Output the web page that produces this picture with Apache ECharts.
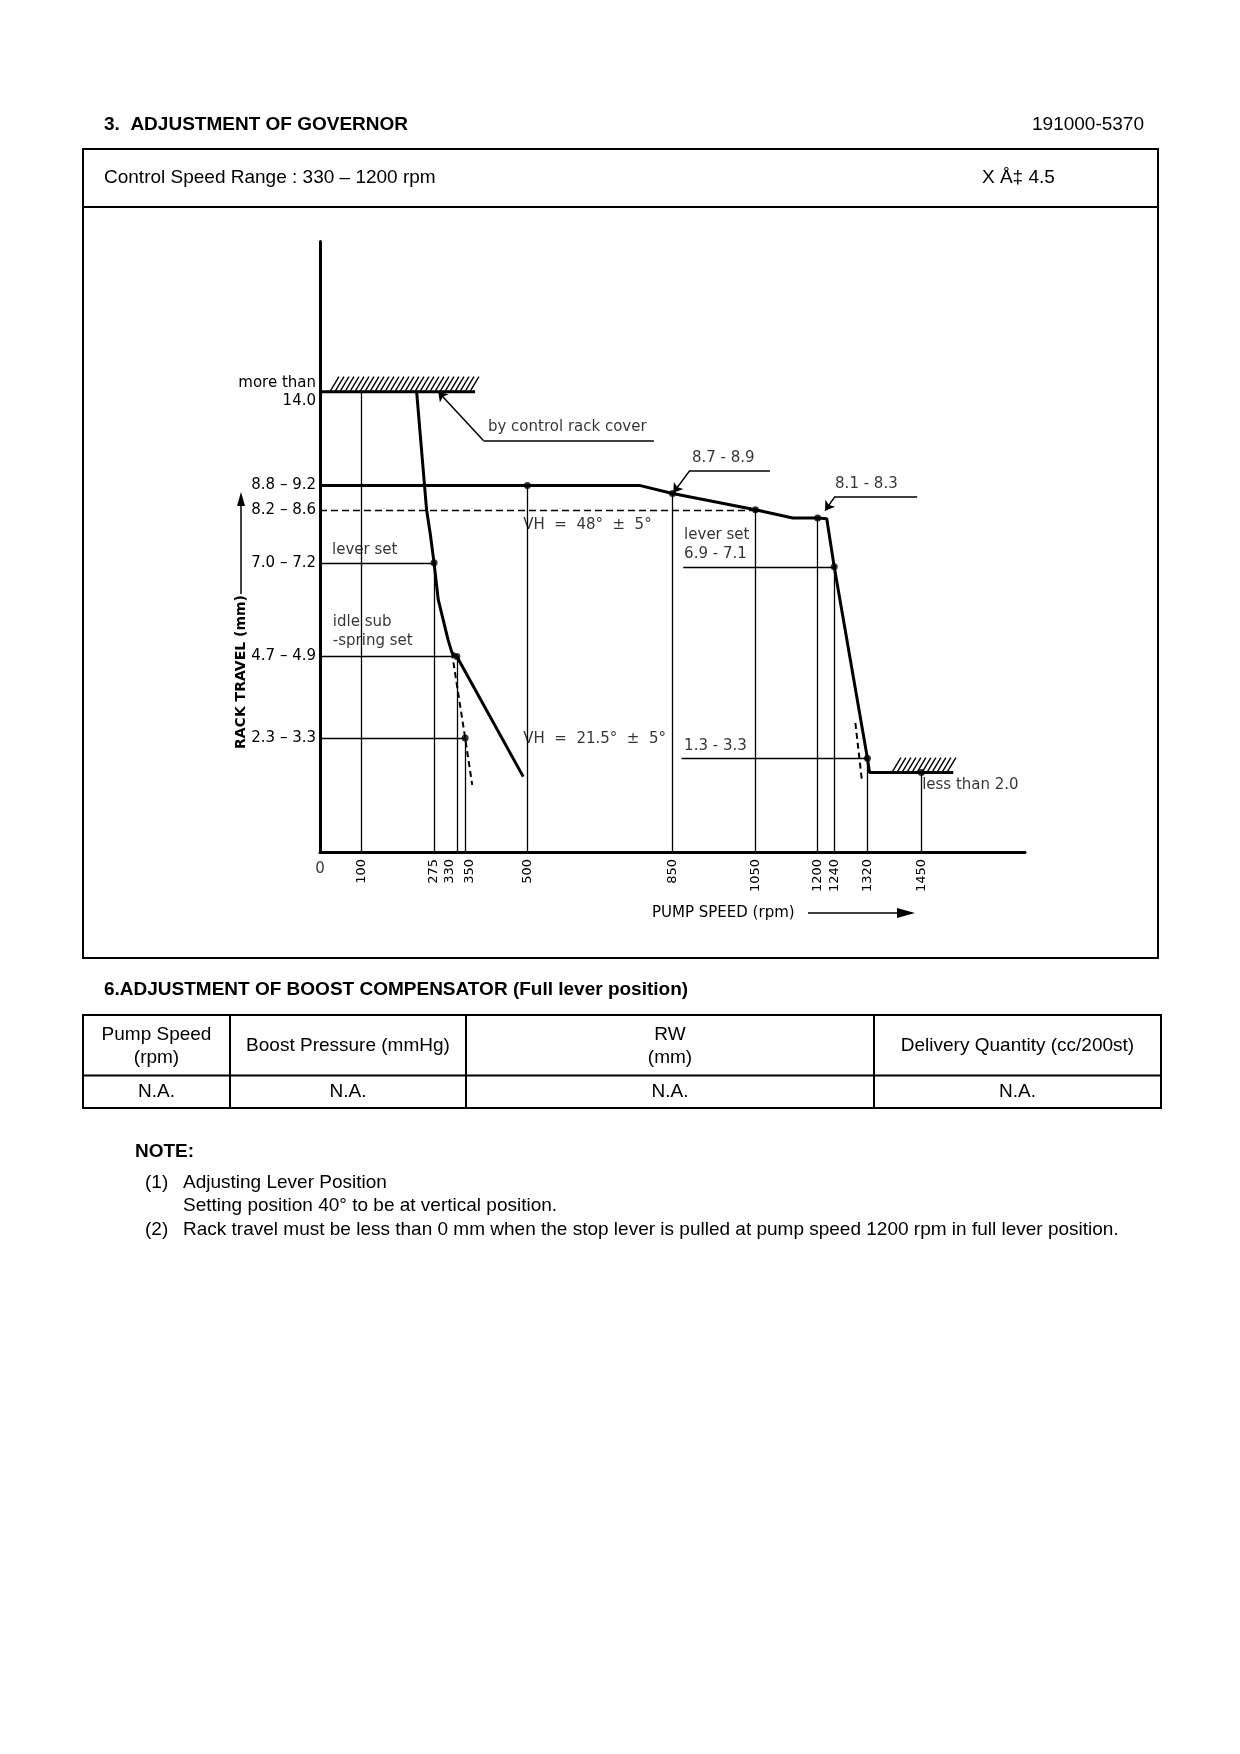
<!DOCTYPE html>
<html>
<head>
<meta charset="utf-8">
<title>Adjustment of Governor 191000-5370</title>
<script src="https://cdn.jsdelivr.net/npm/echarts@6.0.0/dist/echarts.min.js"></script>
<style>
  html, body { margin: 0; padding: 0; background: #fff; }
  #main { width: 1240px; height: 1754px; }
</style>
</head>
<body>
<div id="main"></div>
<script>
// rack travel (mm) vs pump speed (rpm)
var fullLeverCurve = [[233, 14.0], [257, 8.4], [266, 7.8], [275, 7.1], [285, 6.2], [309, 5.2], [318, 4.9], [330, 4.8]];
var idleSlope = [[330, 4.8], [490, 1.85]];
var idleDashed = [[318, 4.9], [350, 2.8], [367, 1.65]];
var fullLoadCurve = [[0, 9.0], [770, 9.0], [850, 8.8], [1050, 8.4], [1140, 8.2], [1200, 8.2], [1222, 8.18],
                     [1240, 7.0], [1320, 2.3], [1325, 1.95], [1450, 1.95], [1527, 1.95]];
var cutoffDashed = [[1291, 3.17], [1307, 1.73]];
var coverStop = [[0, 14.0], [374, 14.0]];
var hatchSpans = [[24, 386, 14.0], [1379, 1544, 1.95]];   // [from rpm, to rpm, mm]
var setPoints = [[275, 7.1], [330, 4.8], [350, 2.8], [500, 9.0], [850, 8.8], [1050, 8.4],
                 [1200, 8.2], [1240, 7.0], [1320, 2.3], [1450, 1.95]];
var vGuides = [[100, 14.0], [275, 7.1], [330, 4.8], [350, 2.8], [500, 9.0], [850, 8.8],
               [1050, 8.4], [1200, 8.2], [1240, 7.0], [1320, 2.3], [1450, 1.95]];   // [rpm, up to mm]
var hGuides = [[7.1, 0, 275], [4.8, 0, 330], [2.8, 0, 350], [7.0, 876, 1240], [2.3, 872, 1320]]; // [mm, from, to]
var hGuidesDashed = [[8.4, 0, 1050]];
var xTicks = [100, 275, 330, 350, 500, 850, 1050, 1200, 1240, 1320, 1450];
var yTickValues = [14.0, 9.0, 8.4, 7.1, 4.8, 2.8];
var yTickLabels = ['more than\n14.0', '8.8 – 9.2', '8.2 – 8.6', '7.0 – 7.2', '4.7 – 4.9', '2.3 – 3.3'];
var leaders = [
  [[285, 14.0], [394, 10.1], [805, 10.1]],
  [[852, 8.82], [892, 9.37], [1085, 9.37]],
  [[1218, 8.38], [1242, 8.73], [1440, 8.73]]
];
var notes = [
  ['by control rack cover', 405, 10.44],
  ['8.7 - 8.9', 897, 9.68],
  ['8.1 - 8.3', 1242, 9.04],
  ['lever set', 29, 7.4],
  ['idle sub\n-spring set', 31, 5.41],
  ['VH  =  48°  ±  5°', 490, 8.02],
  ['VH  =  21.5°  ±  5°', 490, 2.78],
  ['lever set\n6.9 - 7.1', 878, 7.54],
  ['1.3 - 3.3', 878, 2.59],
  ['less than 2.0', 1452, 1.63]
];
var tableHead = ['Pump Speed\n(rpm)', 'Boost Pressure (mmHg)', 'RW\n(mm)', 'Delivery Quantity (cc/200st)'];
var tableRow = ['N.A.', 'N.A.', 'N.A.', 'N.A.'];

var chart = echarts.init(document.getElementById('main'));
var chartFont = 'DejaVu Sans';
var pageFont = '"Liberation Sans", Arial, sans-serif';
var pf = '19px ' + pageFont, pfb = 'bold 19px ' + pageFont;

function seg(a, b, sa, sb) {
  return [{ coord: a, symbol: sa || 'none' }, { coord: b, symbol: sb || 'none' }];
}

var leaderLines = [];
leaders.forEach(function (l) {
  leaderLines.push(seg(l[0], l[1], 'arrow'));
  leaderLines.push(seg(l[1], l[2]));
});

// page frame, headings, table and notes
var colX = [83, 230, 466, 874, 1161];
var graphics = [
  { type: 'text', style: { text: '3.  ADJUSTMENT OF GOVERNOR', x: 104, y: 125, font: pfb, textVerticalAlign: 'middle' } },
  { type: 'text', style: { text: '191000-5370', x: 1144, y: 125, font: pf, textAlign: 'right', textVerticalAlign: 'middle' } },
  { type: 'rect', shape: { x: 83, y: 149, width: 1075, height: 809 }, style: { fill: 'none', stroke: '#000', lineWidth: 2 } },
  { type: 'line', shape: { x1: 83, y1: 207, x2: 1158, y2: 207 }, style: { stroke: '#000', lineWidth: 2 } },
  { type: 'text', style: { text: 'Control Speed Range : 330 – 1200 rpm', x: 104, y: 178, font: pf, textVerticalAlign: 'middle' } },
  { type: 'text', style: { text: 'X Å‡ 4.5', x: 982, y: 178, font: pf, textVerticalAlign: 'middle' } },
  // axis captions
  { type: 'text', x: 241, y: 672, rotation: Math.PI / 2, style: { text: 'RACK TRAVEL (mm)', font: 'bold 14px ' + chartFont, textAlign: 'center', textVerticalAlign: 'middle' } },
  { type: 'line', shape: { x1: 241, y1: 594, x2: 241, y2: 503 }, style: { stroke: '#000', lineWidth: 1.5 } },
  { type: 'polygon', shape: { points: [[241, 492], [237, 506], [245, 506]] }, style: { fill: '#000' } },
  { type: 'text', style: { text: 'PUMP SPEED (rpm)', x: 652, y: 913, font: '15px ' + chartFont, textVerticalAlign: 'middle' } },
  { type: 'line', shape: { x1: 808, y1: 913, x2: 900, y2: 913 }, style: { stroke: '#000', lineWidth: 1.5 } },
  { type: 'polygon', shape: { points: [[915, 913], [897, 908], [897, 918]] }, style: { fill: '#000' } },
  // boost compensator table
  { type: 'text', style: { text: '6.ADJUSTMENT OF BOOST COMPENSATOR (Full lever position)', x: 104, y: 990, font: pfb, textVerticalAlign: 'middle' } },
  { type: 'rect', shape: { x: 83, y: 1015, width: 1078, height: 93 }, style: { fill: 'none', stroke: '#000', lineWidth: 2 } },
  { type: 'line', shape: { x1: 83, y1: 1075.5, x2: 1161, y2: 1075.5 }, style: { stroke: '#000', lineWidth: 2 } },
  { type: 'text', style: { text: 'NOTE:', x: 135, y: 1152, font: pfb, textVerticalAlign: 'middle' } },
  { type: 'text', style: { text: '(1)', x: 145, y: 1183, font: pf, textVerticalAlign: 'middle' } },
  { type: 'text', style: { text: 'Adjusting Lever Position', x: 183, y: 1183, font: pf, textVerticalAlign: 'middle' } },
  { type: 'text', style: { text: 'Setting position 40° to be at vertical position.', x: 183, y: 1206, font: pf, textVerticalAlign: 'middle' } },
  { type: 'text', style: { text: '(2)', x: 145, y: 1230, font: pf, textVerticalAlign: 'middle' } },
  { type: 'text', style: { text: 'Rack travel must be less than 0 mm when the stop lever is pulled at pump speed 1200 rpm in full lever position.', x: 183, y: 1230, font: pf, textVerticalAlign: 'middle' } }
];
for (var i = 0; i < 4; i++) {
  var cx = (colX[i] + colX[i + 1]) / 2;
  if (i > 0) graphics.push({ type: 'line', shape: { x1: colX[i], y1: 1015, x2: colX[i], y2: 1108 }, style: { stroke: '#000', lineWidth: 2 } });
  graphics.push({ type: 'text', style: { text: tableHead[i], x: cx, y: 1046, font: pf, textAlign: 'center', textVerticalAlign: 'middle', lineHeight: 23 } });
  graphics.push({ type: 'text', style: { text: tableRow[i], x: cx, y: 1092, font: pf, textAlign: 'center', textVerticalAlign: 'middle' } });
}

function thick(name, data, dashed) {
  return {
    name: name, type: 'line', data: data, symbol: 'none', silent: true,
    lineStyle: { color: '#000', width: dashed ? 2 : 3, type: dashed ? [6, 4] : 'solid' }
  };
}

// crowded ticks (330 / 350) are nudged apart like on the sheet
var tickFont = { fontSize: 13, fontFamily: chartFont, color: '#000' };

chart.setOption({
  animation: false,
  backgroundColor: '#fff',
  textStyle: { fontFamily: chartFont, color: '#000' },
  grid: { left: 320, right: 215, top: 241, bottom: 902, outerBoundsMode: 'none' },
  xAxis: {
    type: 'value', min: 0, max: 1700,
    axisLine: { lineStyle: { color: '#000', width: 3 } },
    axisTick: { show: false },
    splitLine: { show: false },
    axisLabel: {
      customValues: xTicks, rotate: 90, margin: 7,
      fontSize: 13, color: '#000', fontFamily: chartFont,
      formatter: function (v) {
        if (v === 330) return '{l|330}';
        if (v === 350) return '{r|350}';
        return String(v);
      },
      rich: {
        l: Object.assign({ padding: [0, 0, 14, 0] }, tickFont),
        r: Object.assign({ padding: [9, 0, 0, 0] }, tickFont)
      }
    }
  },
  yAxis: {
    type: 'value', min: 0, max: 17.7,
    breaks: [{ start: 11, end: 13.7, gap: 0 }],
    breakArea: { show: false },
    axisLine: { show: true, lineStyle: { color: '#000', width: 3 } },
    axisTick: { show: false },
    splitLine: { show: false },
    axisLabel: {
      customValues: yTickValues, margin: 4,
      fontSize: 15, color: '#000', fontFamily: chartFont, lineHeight: 18,
      formatter: function (v) {
        var k = yTickValues.indexOf(v);
        return k >= 0 ? yTickLabels[k] : '';
      }
    }
  },
  graphic: graphics,
  series: [
    {
      name: 'guides', type: 'line', data: [], silent: true,
      markLine: {
        silent: true, animation: false, symbol: 'none', label: { show: false },
        lineStyle: { color: '#000', width: 1.3, type: 'solid' },
        data: vGuides.map(function (g) { return seg([g[0], 0], [g[0], g[1]]); })
          .concat(hGuides.map(function (g) { return seg([g[1], g[0]], [g[2], g[0]]); }))
      }
    },
    {
      name: 'dashed guides', type: 'line', data: [], silent: true,
      markLine: {
        silent: true, animation: false, symbol: 'none', label: { show: false },
        lineStyle: { color: '#000', width: 1.3, type: [7, 4] },
        data: hGuidesDashed.map(function (g) { return seg([g[1], g[0]], [g[2], g[0]]); })
      }
    },
    {
      name: 'leaders', type: 'line', data: [], silent: true,
      markLine: {
        silent: true, animation: false, symbolSize: 9, label: { show: false },
        lineStyle: { color: '#000', width: 1.5, type: 'solid' },
        data: leaderLines
      }
    },
    thick('cover stop', coverStop),
    thick('full lever', fullLeverCurve),
    thick('idle', idleSlope),
    thick('idle dashed', idleDashed, true),
    thick('full load', fullLoadCurve),
    thick('cut-off dashed', cutoffDashed, true),
    {
      name: 'hatch', type: 'custom', data: hatchSpans, silent: true,
      encode: { x: [0, 1], y: 2 },
      renderItem: function (params, api) {
        var a = api.coord([api.value(0), api.value(2)]);
        var b = api.coord([api.value(1), api.value(2)]);
        var kids = [];
        for (var x = a[0]; x < b[0] - 9; x += 5) {
          kids.push({ type: 'line', shape: { x1: x, y1: a[1], x2: x + 9, y2: a[1] - 15 }, style: { stroke: '#000', lineWidth: 1.4 } });
        }
        return { type: 'group', children: kids };
      }
    },
    {
      name: 'set points', type: 'scatter', data: setPoints, symbolSize: 7, silent: true,
      itemStyle: { color: '#000' }
    },
    {
      name: 'notes', type: 'scatter', symbolSize: 0, silent: true,
      data: notes.map(function (n) { return { name: n[0], value: [n[1], n[2]] }; })
        .concat([{ name: '0', value: [0, 0], label: { position: 'bottom', distance: 8, fontSize: 15 } }]),
      label: {
        show: true, position: 'right', distance: 0, formatter: '{b}',
        fontFamily: chartFont, fontSize: 15, color: '#000', lineHeight: 19
      }
    }
  ]
});
</script>
</body>
</html>
